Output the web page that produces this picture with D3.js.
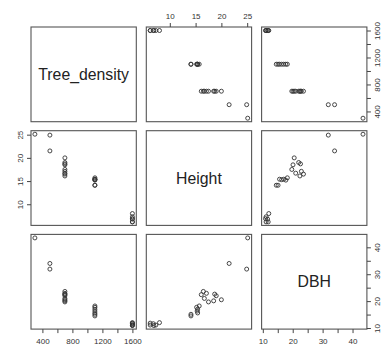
<!DOCTYPE html>
<html>
<head>
<meta charset="utf-8">
<script src="https://cdn.jsdelivr.net/npm/d3@7/dist/d3.min.js"></script>
<style>
body { margin: 0; background: #fff; }
text { font-family: "Liberation Sans", Arial, sans-serif; }
</style>
</head>
<body>
<script>

// data, one entry per tree
var varNames = ["Tree_density", "Height", "DBH"];

var treeDensity = [300, 500, 500, 700, 700, 700, 700, 700, 700, 700, 700, 700,
    1100, 1100, 1100, 1100, 1100, 1100, 1100, 1600, 1600, 1600, 1600, 1600, 1600];
var treeHeight = [25.1, 24.9, 21.5, 20.0, 19.0, 18.7, 18.5, 17.5, 17.1, 16.7, 16.5, 16.1,
    15.7, 15.4, 15.3, 15.4, 15.2, 14.1, 14.1, 8.0, 7.3, 6.9, 6.8, 6.2, 6.2];
var treeDbh = [43.5, 31.9, 34.0, 20.5, 22.0, 22.6, 20.1, 19.7, 22.9, 21.0, 23.6, 22.4,
    18.2, 17.0, 16.3, 15.6, 17.7, 14.5, 15.1, 12.0, 11.1, 10.9, 11.6, 11.1, 11.8];

// tick marks and the ones that get a label
var densityTicks = [400, 600, 800, 1000, 1200, 1400, 1600];
var densityLabels = [400, 800, 1200, 1600];
var heightTicks = [10, 15, 20, 25];
var heightLabels = [10, 15, 20, 25];
var dbhTicks = [10, 15, 20, 25, 30, 35, 40];
var dbhLabels = [10, 20, 30, 40];

var columns = [treeDensity, treeHeight, treeDbh];
var ticks = [densityTicks, heightTicks, dbhTicks];
var labels = [densityLabels, heightLabels, dbhLabels];

var W = 382, H = 347;
var padLeft = 31, padTop = 27,
    pw = 105.3, ph = 94.7,
    gapX = 10, gapY = 9;

var svg = d3.select("body").append("svg")
    .attr("width", W)
    .attr("height", H);

// R style range: data extent stretched by 4% each side
function rDomain(v) {
    var e = d3.extent(v), pad = (e[1] - e[0]) * 0.04;
    return [e[0] - pad, e[1] + pad];
}

var xScales = columns.map(function (v) {
    return d3.scaleLinear().domain(rDomain(v)).range([0, pw]);
});
var yScales = columns.map(function (v) {
    return d3.scaleLinear().domain(rDomain(v)).range([ph, 0]);
});

function fmt(k) {
    return function (d) { return labels[k].indexOf(d) >= 0 ? d : ""; };
}

function styleAxis(g) {
    g.select(".domain").remove();
    g.selectAll(".tick line").attr("stroke", "#444");
    g.selectAll(".tick text").attr("fill", "#333").style("font-size", "8px");
}

var n = varNames.length;

for (var i = 0; i < n; i++) {
    for (var j = 0; j < n; j++) {
        var px = padLeft + j * (pw + gapX),
            py = padTop + i * (ph + gapY);
        var panel = svg.append("g").attr("transform", "translate(" + px + "," + py + ")");

        if (i == j) {
            panel.append("text")
                .attr("x", pw / 2)
                .attr("y", ph / 2)
                .attr("dy", "0.35em")
                .attr("text-anchor", "middle")
                .attr("fill", "#222")
                .style("font-size", "15.8px")
                .text(varNames[i]);
        } else {
            var xs = xScales[j], ys = yScales[i];
            var xv = columns[j], yv = columns[i];
            panel.selectAll("circle")
                .data(d3.range(xv.length))
                .enter().append("circle")
                .attr("cx", function (k) { return xs(xv[k]); })
                .attr("cy", function (k) { return ys(yv[k]); })
                .attr("r", 2)
                .attr("fill", "none")
                .attr("stroke", "#333")
                .attr("stroke-width", 0.9);
        }

        panel.append("rect")
            .attr("width", pw)
            .attr("height", ph)
            .attr("fill", "none")
            .attr("stroke", "#555")
            .attr("stroke-width", 1.1);

        // axes alternate round the outside like R pairs()
        if (i == 0 && j % 2 == 1) {
            panel.append("g")
                .call(d3.axisTop(xScales[j]).tickValues(ticks[j]).tickFormat(fmt(j)).tickSize(4).tickPadding(4))
                .call(styleAxis);
        }
        if (i == n - 1 && j % 2 == 0) {
            panel.append("g")
                .attr("transform", "translate(0," + ph + ")")
                .call(d3.axisBottom(xScales[j]).tickValues(ticks[j]).tickFormat(fmt(j)).tickSize(4).tickPadding(5))
                .call(styleAxis);
        }
        if (j == 0 && i % 2 == 1) {
            panel.append("g")
                .call(d3.axisLeft(yScales[i]).tickValues(ticks[i]).tickFormat(fmt(i)).tickSize(4))
                .call(styleAxis)
                .selectAll(".tick text")
                .attr("transform", "rotate(-90)")
                .attr("text-anchor", "middle")
                .attr("x", 0).attr("y", -8).attr("dy", 0);
        }
        if (j == n - 1 && i % 2 == 0) {
            // labels sit right at the window edge, as in the original
            panel.append("g")
                .attr("transform", "translate(" + pw + ",0)")
                .call(d3.axisRight(yScales[i]).tickValues(ticks[i]).tickFormat(fmt(i)).tickSize(4))
                .call(styleAxis)
                .selectAll(".tick text")
                .attr("transform", "rotate(-90)")
                .attr("text-anchor", "middle")
                .attr("x", 0).attr("y", 13).attr("dy", 0);
        }
    }
}
</script>
</body>
</html>
